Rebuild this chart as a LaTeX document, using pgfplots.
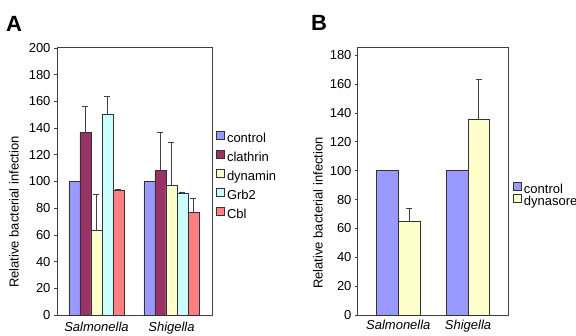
\documentclass[border=0pt]{standalone}
\usepackage{fontspec}
\setmainfont{Liberation Sans}
\usepackage{pgfplots}
\pgfplotsset{compat=1.18}
\definecolor{cctrl}{HTML}{9999FF}
\definecolor{cclat}{HTML}{993366}
\definecolor{cdyn}{HTML}{FFFFCC}
\definecolor{cgrb}{HTML}{CCFFFF}
\definecolor{ccbl}{HTML}{FF8080}
\definecolor{edge}{HTML}{333333}
\definecolor{errc}{HTML}{404040}
\definecolor{axgray}{HTML}{404040}
\begin{document}
\begin{tikzpicture}
\useasboundingbox (0pt,0pt) rectangle (576pt,335pt);
\pgfplotsset{
  myax/.style={
    scale only axis, anchor=south west,
    ybar=0pt, ymin=0,
    axis line style={draw=axgray, line width=1pt},
    xtick={0,1}, xticklabels={\textit{Salmonella},\textit{Shigella}},
    x tick style={draw=none},
    ytick pos=left,
    tick align=outside,
    y tick style={draw=axgray, line width=0.8pt},
    ticklabel style={font=\fontsize{13}{15}\selectfont},
    /pgf/number format/assume math mode=true,
    ylabel={Relative bacterial infection},
    legend cell align=left,
    legend style={draw=none, fill=none, inner sep=0pt, font=\fontsize{13}{15}\selectfont, anchor=north west,
      nodes={inner xsep=2pt, inner ysep=0pt, text height=9.5pt, text depth=2.5pt}},
    legend image code/.code={\draw[#1, draw=edge, line width=0.8pt] (0pt,-0.5pt) rectangle (8pt,7.5pt);},
    every axis plot/.append style={draw=edge, line width=0.9pt},
    clip=false,
  },
  myerr/.style={error bars/.cd, y dir=plus, y explicit,
    error bar style={draw=errc, line width=1pt},
    error mark options={rotate=90, draw=errc, line width=1pt, mark size=3pt}},
}
% Panel A
\begin{axis}[myax, at={(58pt,20pt)}, width=154pt, height=267pt,
  xmin=-0.513, xmax=1.54, ymax=200, ytick={0,20,...,200},
  bar width=11pt, major tick length=4pt,
  every axis y label/.style={at={(axis description cs:-0.286,0.386)}, rotate=90, anchor=center, font=\fontsize{13}{15}\selectfont},
  legend style={at={(axis description cs:1.026,0.691)}, row sep=5.2pt}]
\addplot[fill=cctrl] coordinates {(0,100) (1,100)};
\addplot[fill=cclat, myerr] coordinates {(0,136.5) +- (0,20) (1,108) +- (0,28.5)};
\addplot[fill=cdyn, myerr] coordinates {(0,63) +- (0,27) (1,97) +- (0,32)};
\addplot[fill=cgrb, myerr] coordinates {(0,150.5) +- (0,13.5) (1,91) +- (0,1)};
\addplot[fill=ccbl, myerr] coordinates {(0,93) +- (0,1) (1,77) +- (0,10)};
\legend{control,clathrin,dynamin,Grb2,Cbl}
\end{axis}
% Panel B
\begin{axis}[myax, at={(357pt,20pt)}, width=151pt, height=267pt,
  xmin=-0.593, xmax=1.574, ymax=185, ytick={0,20,...,180},
  bar width=21.7pt, major tick length=2pt,
  every axis y label/.style={at={(axis description cs:-0.258,0.382)}, rotate=90, anchor=center, font=\fontsize{13}{15}\selectfont},
  legend style={at={(axis description cs:1.033,0.50)}, row sep=-1.5pt}]
\addplot[fill=cctrl] coordinates {(0,100) (1,100)};
\addplot[fill=cdyn, myerr] coordinates {(0,65) +- (0,9) (1,135.5) +- (0,27.5)};
\legend{control,dynasore}
\end{axis}
\node[anchor=base west, font=\bfseries\fontsize{22}{22}\selectfont, inner sep=0pt] at (6pt,303pt) {A};
\node[anchor=base west, font=\bfseries\fontsize{22}{22}\selectfont, inner sep=0pt] at (311pt,304pt) {B};
\end{tikzpicture}
\end{document}
